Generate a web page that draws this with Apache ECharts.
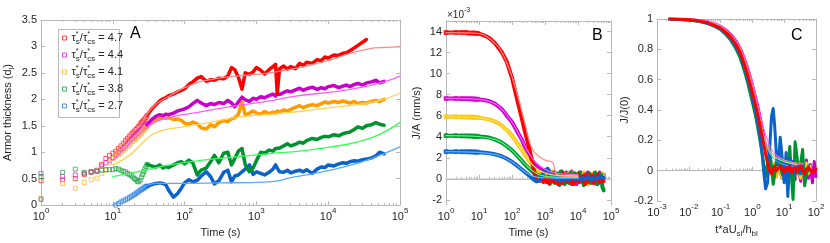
<!DOCTYPE html>
<html><head><meta charset="utf-8">
<script src="https://cdn.jsdelivr.net/npm/echarts@6/dist/echarts.min.js"></script>
<style>html,body{margin:0;padding:0;background:#fff}#c{width:830px;height:243px}</style>
</head><body><div id="c"></div>
<script>
// ---------- Panel A data ----------
const aMarkT = [1,2,3,4,5,6,7,8,9,10,11,12,13,14,15,16,17,18,19,20,21,22,23,24,25,26,27,28,29,30];
const aRedM = [0.46,0.48,0.50,0.58,0.62,0.66,0.77,0.88,0.94,0.98,1.02,1.07,1.12,1.17,1.22,1.26,1.30,1.34,1.37,1.40,1.43,1.46,1.49,1.53,1.56,1.58,1.61,1.63,1.66,1.69];
const aMagM = [0.60,0.54,0.57,0.60,0.63,0.64,0.74,0.80,0.84,0.90,0.94,0.99,1.04,1.08,1.12,1.16,1.20,1.24,1.27,1.30,1.33,1.36,1.38,1.41,1.43,1.46,1.48,1.50,1.52,1.54];
const aOrM = [0.13,0.41,0.32,0.43,0.48,0.51,0.60,0.66,0.80,0.88,0.92,0.96,1.00,1.04,1.07,1.10,1.13,1.17,1.20,1.23,1.26,1.29,1.31,1.34,1.37,1.40,1.42,1.45,1.47,1.49];
const aGrM = [0.54,0.62,0.68,0.62,0.63,0.64,0.66,0.67,0.67,0.67,0.69,0.68,0.66,0.64,0.63,0.60,0.58,0.56,0.53,0.50,0.48,0.45,0.44,0.47,0.53,0.58,0.63,0.68,0.73,0.77];
const aBlM = [0.11,null,null,null,null,null,null,null,null,null,0.0,0.03,0.06,0.08,0.10,0.12,0.14,0.16,0.18,0.20,0.22,0.24,0.26,0.28,0.29,0.31,0.32,0.34,0.35,0.36];

const tA = [30,35,40,45,50,55,60,70,80,90,100,115,130,150,170,200,230,260,300,350,400,450,500,560,630,700,800,900,1000,1150,1300,1500,1700,1850,1950,2100,2400,2700,3000,3500,4000,4500,5000,6000,7000,8000,9000,10000,12000,14000,16000,18000,20000,23000,26000,30000,34000,40000,46000,52000,60000];
const aRed = [1.70,1.82,1.90,1.97,2.01,2.03,2.07,2.10,2.14,2.17,2.20,2.28,2.33,2.40,2.43,2.34,2.37,2.36,2.40,2.39,2.44,2.60,2.56,2.42,2.19,2.50,2.47,2.52,2.60,2.55,2.48,2.56,2.62,2.66,2.10,2.58,2.63,2.57,2.62,2.58,2.68,2.64,2.70,2.68,2.75,2.73,2.80,2.78,2.84,2.83,2.87,2.88,2.92,2.97,3.02,3.08,3.13,null,null,null,null];
const aMag = [1.52,1.62,1.68,1.71,1.69,1.72,1.71,1.74,1.78,1.80,1.82,1.86,1.92,1.98,1.93,1.88,1.92,1.90,1.94,1.92,1.98,1.93,1.86,1.95,2.04,1.99,1.96,2.02,2.00,2.05,2.03,2.07,2.10,2.06,2.11,2.09,2.13,2.16,2.14,2.18,2.21,2.17,2.20,2.23,2.19,2.22,2.20,2.24,2.26,2.22,2.25,2.27,2.24,2.28,2.30,2.27,2.31,2.33,2.36,2.31,2.34];
const aOr = [1.48,1.56,1.62,1.64,1.66,1.64,1.65,1.62,1.63,1.60,1.55,1.53,1.57,1.54,1.46,1.44,1.52,1.48,1.56,1.60,1.58,1.63,1.65,1.72,1.95,1.70,1.74,1.78,1.74,1.72,1.77,1.73,1.76,1.74,1.78,1.76,1.80,1.78,1.81,1.85,1.88,1.84,1.87,1.90,1.88,1.92,1.95,1.93,1.96,1.94,1.97,1.95,1.93,1.96,1.92,1.94,1.93,1.96,1.98,1.96,2.00];
const aGr = [0.77,0.74,0.72,0.76,0.70,0.73,0.71,0.76,0.80,0.82,0.78,0.85,0.80,0.57,0.66,0.70,0.82,0.94,0.80,0.98,1.00,0.76,0.88,1.02,1.07,0.76,0.63,0.70,0.84,1.00,0.98,1.04,1.02,1.07,1.05,1.08,1.12,1.16,1.12,1.15,1.19,1.17,1.22,1.26,1.24,1.28,1.30,1.29,1.33,1.31,1.35,1.37,1.38,1.43,1.48,1.45,1.50,1.52,1.56,1.53,1.51];
const aBl = [0.36,0.39,0.41,0.42,0.41,0.38,0.28,0.15,0.22,0.32,0.42,0.48,0.44,0.47,0.55,0.63,0.54,0.40,0.46,0.62,0.66,0.44,0.55,0.57,0.63,0.68,0.76,0.58,0.63,0.60,0.57,0.62,0.68,0.76,0.70,0.63,0.62,0.66,0.61,0.64,0.66,0.63,0.67,0.60,0.68,0.72,0.71,0.76,0.74,0.78,0.80,0.79,0.82,0.84,0.83,0.86,0.87,0.89,0.93,1.00,0.97];

const aRedModT = [10,15,20,24,30,40,63,100,160,300,530,1000,1550,2500,4000,7000,10000,20000,38000,60000,100000];
const aRedModY = [0.94,1.22,1.42,1.50,1.72,1.91,2.07,2.22,2.33,2.40,2.44,2.47,2.50,2.55,2.60,2.68,2.73,2.87,2.96,2.98,2.99];
const aMagModT = [10,15,24,36,63,160,530,1550,3500,15000,38000,70000,100000];
const aMagModY = [0.85,1.08,1.35,1.55,1.66,1.76,1.88,1.97,2.06,2.16,2.26,2.36,2.44];
const aOrModT = [10,17,28,35,45,60,180,530,1550,4000,10000,20000,38000,60000,100000];
const aOrModY = [0.76,0.94,1.22,1.33,1.40,1.44,1.54,1.66,1.72,1.77,1.84,1.88,1.94,2.00,2.12];
const aGrModT = [10,20,30,63,180,530,1550,4000,7700,20000,38000,60000,100000];
const aGrModY = [0.54,0.62,0.67,0.76,0.85,0.91,0.975,1.02,1.07,1.16,1.26,1.38,1.56];
const aBlModT = [10,15,20,25,30,35,40,100,300,1000,2000,3000,5000,10000,20000,40000,100000];
const aBlModY = [0.0,0.13,0.24,0.32,0.37,0.40,0.41,0.41,0.42,0.43,0.46,0.52,0.57,0.65,0.75,0.88,1.10];

// ---------- Panel B data (units of 1e-3 mm/s) ----------
const bMarkT = [1,2,3,4,5,6,7,8,9];
const bRedM = [13.9,13.9,13.9,13.9,13.85,13.85,13.85,13.83,13.82];
const bMagM = [7.64,7.64,7.62,7.62,7.6,7.6,7.58,7.57,7.56];
const bYelM = [5.9,5.9,5.88,5.88,5.87,5.86,5.85,5.83,5.82];
const bGrM = [4.1,4.1,4.08,4.08,4.07,4.06,4.05,4.04,4.03];
const bBlM = [2.58,2.58,2.57,2.57,2.56,2.56,2.55,2.54,2.53];

const tB = [1,2,3,4,5,7,10,15,20,30,40,50,70,100,130,170,200,250,300,350,400,450,500,550,600,700,800,900,1000,1100,1200,1300,1400,1550,1700,1850,2000,2250,2500,2750,3000,3250,3500,3750,4000,4500,5000,5500,6000,6500,7000,7500,8000,9000,10000,11000,12000,13500,15000,16500,18000,20000,22000,24500,27000,30000,33000,36500,40000,45000,50000,55000,60000];
const bRed = [13.9,13.9,13.9,13.9,13.85,13.85,13.8,13.6,13.4,12.9,12.4,12.0,11.1,9.6,8.1,6.6,5.7,4.4,3.5,2.6,1.7,1.0,0.3,-0.1,-0.25,-0.2,0.1,-0.3,0.2,
 -0.3,0.2,-0.4,0.1,0.3,-0.2,0.4,-0.3,0.1,-0.5,0.3,0.0,-0.4,0.5,-0.1,0.2,-0.3,0.4,-0.2,0.1,-0.5,0.3,0.2,-0.4,0.0,0.4,-0.3,0.2,-0.1,0.3,-0.5,0.1,0.4,-0.2,0.0,0.3,-0.4,0.2,-0.1,0.4,-0.3,0.1,0.2,-0.2];
const bMag = [7.64,7.64,7.62,7.62,7.6,7.58,7.55,7.47,7.4,7.15,6.85,6.6,6.0,5.4,4.75,4.1,3.7,3.0,2.6,2.2,1.8,1.5,1.35,1.2,1.1,0.95,0.85,0.75,0.7,
 0.5,0.6,0.3,0.7,0.2,0.5,-0.3,0.6,0.1,0.4,-0.2,0.7,0.3,-0.4,0.5,0.2,0.6,-0.3,0.4,0.1,0.7,-0.2,0.3,0.5,-0.5,0.4,0.2,0.6,-0.3,0.5,0.1,-0.4,0.6,0.2,0.4,-0.3,0.5,0.0,0.3,-0.5,0.6,0.2,-0.2,0.4];
const bYel = [5.9,5.9,5.88,5.88,5.87,5.85,5.8,5.72,5.65,5.45,5.25,5.05,4.65,4.1,3.6,3.05,2.75,2.25,1.9,1.6,1.3,1.1,0.9,0.75,0.65,0.5,0.4,0.3,0.25,
 0.3,0.1,0.6,-0.2,0.4,0.7,0.0,0.3,-0.4,0.5,0.2,-0.1,0.6,0.1,-0.3,0.4,0.0,0.5,-0.2,0.3,0.6,-0.4,0.2,0.0,0.5,-0.3,0.4,0.1,-0.2,0.6,0.0,0.3,-0.5,0.4,0.2,-0.1,0.5,-0.3,0.2,0.4,-0.2,0.1,0.5,0.0];
const bGr = [4.1,4.1,4.08,4.08,4.07,4.05,4.02,3.97,3.92,3.75,3.58,3.42,3.1,2.7,2.35,1.95,1.7,1.35,1.1,0.9,0.72,0.6,0.5,0.42,0.38,0.3,0.2,0.15,0.1,
 0.0,-0.3,0.4,-0.5,0.2,-0.2,0.6,-0.4,0.1,0.5,-0.6,0.3,0.7,-0.2,0.0,-0.5,0.4,0.2,-0.4,0.6,-0.1,0.3,-0.5,0.5,0.0,-0.3,0.6,-0.2,0.2,-0.6,0.4,0.0,-0.3,0.5,-0.4,0.3,-0.1,0.6,-0.5,0.2,-0.3,0.4,-0.8,-1.1];
const bBl = [2.58,2.58,2.57,2.57,2.56,2.55,2.52,2.48,2.44,2.33,2.22,2.12,1.9,1.62,1.35,1.05,0.88,0.62,0.42,0.25,0.1,-0.05,-0.18,-0.25,-0.28,-0.15,0.2,0.55,0.8,
 0.9,0.95,0.85,0.6,0.3,0.1,0.0,0.1,-0.1,0.15,0.0,-0.15,0.1,0.2,-0.1,0.05,0.15,-0.05,0.1,0.0,-0.1,0.2,0.05,-0.05,0.1,0.15,0.0,-0.1,0.1,0.2,0.0,-0.05,0.15,0.05,-0.1,0.1,0.2,0.0,-0.15,0.1,0.05,0.15,0.0,0.1];

const bRedModT = [1,10,30,50,100,170,250,400,700,1100,1700,1950,2500,4000,10000];
const bRedModY = [13.9,13.8,12.9,12.0,9.7,7.2,5.2,2.9,2.05,1.73,1.57,0.94,0.3,0.25,0.2];
const bModT = [1,10,30,50,100,170,250,400,600,1000,1500,2000,2500,4000,10000];
const bMagModY = [7.64,7.55,7.15,6.6,5.4,4.1,3.1,2.0,1.4,0.9,0.65,0.55,0.5,0.45,0.4];
const bYelModY = [5.9,5.8,5.45,5.05,4.1,3.05,2.3,1.4,0.9,0.55,0.4,0.35,0.32,0.3,0.28];
const bGrModY = [4.1,4.02,3.75,3.42,2.7,1.95,1.4,0.8,0.45,0.25,0.18,0.15,0.14,0.13,0.12];
const bBlModY = [2.58,2.52,2.33,2.12,1.62,1.05,0.65,0.3,0.15,0.1,0.08,0.07,0.06,0.05,0.05];

// ---------- Panel C data ----------
const tC = [0.0025,0.005,0.01,0.02,0.04,0.07,0.1,0.15,0.2,0.3,0.4,0.5,0.6,0.7,0.8,0.9,1.0,1.2,1.4,1.6,1.8,2.0,2.3,2.6,3.0,3.5,4.0,4.5,5.0,5.7,6.5,7.5,8.5,10,11.5,13,15,17,19,22,25,29,33,38,44,50,58,67,77,88,100];
const cRed = [1.0,0.998,0.995,0.988,0.975,0.955,0.94,0.91,0.885,0.835,0.785,0.73,0.68,0.635,0.59,0.55,0.515,0.45,0.39,0.335,0.28,0.23,0.17,0.11,0.05,0.0,-0.02,0.01,0.03,0.0,-0.01,0.03,0.01,-0.01,0.02,0.0,0.03,-0.01,0.01,0.02,-0.01,0.01,0.03,0.0,-0.02,0.01,0.02,0.0,0.01,-0.01,0.01];
const cGr = [1.0,0.997,0.993,0.985,0.97,0.948,0.93,0.895,0.865,0.805,0.75,0.69,0.635,0.585,0.535,0.49,0.45,0.38,0.31,0.24,0.18,0.12,0.04,-0.04,0.04,0.14,0.03,-0.09,-0.03,0.06,0.12,0.04,-0.02,-0.05,0.08,0.02,0.16,-0.05,-0.19,0.19,0.1,-0.02,0.05,0.14,-0.1,-0.03,0.03,null,null,null,null];
const cBl = [1.0,0.997,0.994,0.986,0.972,0.951,0.935,0.902,0.875,0.82,0.768,0.71,0.66,0.61,0.565,0.52,0.48,0.41,0.34,0.27,0.2,0.12,-0.02,-0.12,-0.08,0.15,0.36,0.41,0.3,0.1,0.04,0.22,0.1,-0.08,0.12,-0.17,0.08,0.0,0.06,-0.03,0.04,0.02,-0.02,0.03,null,null,null,null,null,null,null];
const cMag = [1.0,0.999,0.997,0.99,0.98,0.962,0.948,0.922,0.9,0.855,0.81,0.765,0.72,0.68,0.64,0.6,0.565,0.5,0.445,0.39,0.34,0.29,0.22,0.16,0.1,0.04,0.0,-0.03,0.02,-0.04,0.05,0.0,-0.05,0.06,0.01,-0.04,0.07,-0.02,0.04,-0.06,0.06,0.0,-0.07,0.05,-0.03,0.07,-0.05,0.04,-0.08,0.06,-0.04];
const cYel = [1.0,0.998,0.996,0.989,0.977,0.958,0.943,0.915,0.89,0.843,0.795,0.745,0.695,0.652,0.61,0.57,0.535,0.47,0.41,0.355,0.3,0.25,0.19,0.13,0.07,0.02,-0.03,0.02,0.05,-0.04,0.03,0.0,-0.05,0.04,0.06,-0.02,0.05,-0.04,0.03,0.06,-0.03,0.02,-0.05,0.04,0.0,0.05,-0.02,0.03,null,null,null];
const tCm = [0.0025,0.01,0.05,0.1,0.2,0.4,0.7,1.0,1.5,2.0,3.0,4.0,6.0,10,15,25,40];
const cRedMod = [1,0.996,0.98,0.95,0.9,0.81,0.67,0.55,0.39,0.27,0.17,0.12,0.09,0.07,0.06,0.05,0.05];
const cMagMod = [1,0.998,0.985,0.96,0.915,0.83,0.7,0.59,0.43,0.32,0.2,0.14,0.1,0.07,0.05,0.04,0.04];
const cYelMod = [1,0.996,0.978,0.948,0.895,0.8,0.66,0.54,0.38,0.27,0.16,0.11,0.08,0.06,0.05,0.04,null];
const cGrMod = [1,0.995,0.975,0.94,0.885,0.785,0.64,0.52,0.36,0.25,0.15,0.1,0.08,0.06,0.05,0.05,null];
const cBlMod = [1,0.996,0.977,0.945,0.89,0.79,0.65,0.53,0.37,0.26,0.15,0.1,0.06,0.04,0.03,0.03,null];

// ---------- labels ----------
const legendValues = ['4.7','4.4','4.1','3.8','2.7'];
const majorA = [1,10,100,1000,10000,100000];
const minorA = [2,3,4,5,6,7,8,9,20,30,40,50,60,70,80,90,200,300,400,500,600,700,800,900,2000,3000,4000,5000,6000,7000,8000,9000,20000,30000,40000,50000,60000,70000,80000,90000];
const majorC = [0.001,0.01,0.1,1,10,100];
const minorC = [0.002,0.003,0.004,0.005,0.006,0.007,0.008,0.009,0.02,0.03,0.04,0.05,0.06,0.07,0.08,0.09,0.2,0.3,0.4,0.5,0.6,0.7,0.8,0.9,2,3,4,5,6,7,8,9,20,30,40,50,60,70,80,90];
const yTicksB = [-2,0,2,4,6,8,10,12,14];

// ---------- styling ----------
const FONT = '"Liberation Sans", Arial, Helvetica, sans-serif';
const AX = '#b8b8b8';
const TXT = '#262626';
const C = {
  red:'#ff0000', mag:'#c800c8', or:'#ff9a00', yel:'#ffc800', gr:'#00922e', bl:'#0b62c8',
  redL:'#ff8a8a', magL:'#ff5cff', orL:'#ffd24d', grL:'#33ff55', blL:'#5aaaff',
  redMk:'#ff2020', magMk:'#d820d8', orMk:'#ffb020', grMk:'#17a040', blMk:'#2a78d8'
};
const supRich = {
  b:{fontSize:11, fontFamily:FONT, color:TXT, lineHeight:15, verticalAlign:'bottom'},
  e:{fontSize:8, fontFamily:FONT, color:TXT, lineHeight:9, verticalAlign:'top'}
};
const subRich = {
  n:{fontFamily:FONT, fontSize:11, color:TXT, lineHeight:14, verticalAlign:'top'},
  s:{fontFamily:FONT, fontSize:8, color:TXT, lineHeight:8, verticalAlign:'bottom'}
};
function supLabel(v){ const e = Math.round(Math.log10(v)); return '{b|10}{e|' + (e < 0 ? '-' + (-e) : e) + '}'; }

function logAxes(g, min, max, majors, minors, name, nameGap){
  const base = {type:'log', logBase:10, gridIndex:g, min:min, max:max, splitLine:{show:false}, axisPointer:{show:false}};
  return [
    Object.assign({}, base, {position:'bottom',
      axisLine:{show:true, lineStyle:{color:AX, width:1}},
      axisTick:{show:true, inside:true, length:4, customValues:majors, lineStyle:{color:AX}},
      axisLabel:{show:true, customValues:majors, formatter:supLabel, rich:supRich, margin:2},
      name:name, nameLocation:'middle', nameGap:nameGap,
      nameTextStyle:{fontFamily:FONT, fontSize:11, color:TXT, rich:subRich}}),
    Object.assign({}, base, {position:'bottom', axisLine:{show:false},
      axisTick:{show:true, inside:true, length:2, customValues:minors, lineStyle:{color:AX}},
      axisLabel:{show:false}}),
    Object.assign({}, base, {position:'top', axisLine:{show:true, lineStyle:{color:AX}},
      axisTick:{show:true, inside:true, length:4, customValues:majors, lineStyle:{color:AX}},
      axisLabel:{show:false}}),
    Object.assign({}, base, {position:'top', axisLine:{show:false},
      axisTick:{show:true, inside:true, length:2, customValues:minors, lineStyle:{color:AX}},
      axisLabel:{show:false}})
  ];
}
function valAxes(g, min, max, interval, ticks, name, nameGap){
  const base = {type:'value', gridIndex:g, min:min, max:max, splitLine:{show:false}, axisPointer:{show:false}};
  if (interval) base.interval = interval;
  const tick = {show:true, inside:true, length:4, lineStyle:{color:AX}};
  const lab = {show:true, fontFamily:FONT, fontSize:11, color:TXT, margin:4};
  if (ticks){ tick.customValues = ticks; lab.customValues = ticks; }
  return [
    Object.assign({}, base, {position:'left', axisLine:{show:true, lineStyle:{color:AX}}, axisTick:tick, axisLabel:lab,
      name:name, nameLocation:'middle', nameGap:nameGap,
      nameTextStyle:{fontFamily:FONT, fontSize:11, color:TXT, rich:subRich}}),
    Object.assign({}, base, {position:'right', axisLine:{show:true, lineStyle:{color:AX}}, axisTick:tick, axisLabel:{show:false}})
  ];
}

function zip(ts, ys){ const out = []; for (let i = 0; i < ts.length; i++){ if (ys[i] != null) out.push([ts[i], ys[i]]); } return out; }
function line(g, ts, ys, color, width, z, smooth){
  return {type:'line', xAxisIndex:g*4, yAxisIndex:g*2, data:zip(ts, ys), symbol:'none', showSymbol:false,
    lineStyle:{color:color, width:width, join:'round', cap:'round'}, itemStyle:{color:color}, smooth:smooth || false, z:z, silent:true, animation:false};
}
function marks(g, ts, ys, color, name, size){
  return {type:'scatter', name:name || undefined, xAxisIndex:g*4, yAxisIndex:g*2, data:zip(ts, ys), symbol:'rect', symbolSize:size || 4,
    itemStyle:{color:'rgba(0,0,0,0)', borderColor:color, borderWidth:0.9}, z:3, silent:true, animation:false};
}

const series = [
  // Panel A
  marks(0, aMarkT, aRedM, C.redMk, legendValues[0]),
  marks(0, aMarkT, aMagM, C.magMk, legendValues[1]),
  marks(0, aMarkT, aOrM, C.orMk, legendValues[2]),
  marks(0, aMarkT, aGrM, C.grMk, legendValues[3]),
  marks(0, aMarkT, aBlM, C.blMk, legendValues[4]),
  line(0, tA, aBl, C.bl, 3.5, 4),
  line(0, tA, aGr, C.gr, 3.5, 4),
  line(0, tA, aOr, C.or, 3.5, 4),
  line(0, tA, aMag, C.mag, 3.5, 4),
  line(0, tA, aRed, C.red, 3.5, 4),
  line(0, aRedModT, aRedModY, C.redL, 1.3, 6, 0.4),
  line(0, aMagModT, aMagModY, C.magL, 1.3, 6, 0.4),
  line(0, aOrModT, aOrModY, C.orL, 1.3, 6, 0.4),
  line(0, aGrModT, aGrModY, C.grL, 1.3, 6, 0.4),
  line(0, aBlModT, aBlModY, C.blL, 1.3, 6, 0.4),
  // Panel B
  line(1, [1, 100000], [0, 0], '#d0d0d0', 1, 1),
  marks(1, bMarkT, bRedM, C.red), marks(1, bMarkT, bMagM, C.mag), marks(1, bMarkT, bYelM, C.yel),
  marks(1, bMarkT, bGrM, C.gr), marks(1, bMarkT, bBlM, C.bl),
  line(1, tB, bMag, C.mag, 4, 4),
  line(1, tB, bYel, C.yel, 4, 4),
  line(1, tB, bGr, C.gr, 4, 4),
  line(1, tB, bRed, C.red, 4, 4),
  line(1, tB, bBl, C.bl, 4, 4),
  line(1, bRedModT, bRedModY, C.redL, 1.2, 6, 0.4),
  line(1, bModT, bMagModY, C.magL, 1.2, 6, 0.4),
  line(1, bModT, bYelModY, '#ffe066', 1.2, 6, 0.4),
  line(1, bModT, bGrModY, '#50ff80', 1.2, 6, 0.4),
  line(1, bModT, bBlModY, '#60b0ff', 1.2, 6, 0.4),
  // Panel C
  line(2, tC, cMag, C.mag, 3, 4),
  line(2, tC, cYel, C.yel, 3, 4),
  line(2, tC, cGr, C.gr, 3, 4),
  line(2, tC, cBl, C.bl, 3, 4),
  line(2, tCm, cMagMod, C.magL, 1, 5, 0.4),
  line(2, tCm, cYelMod, '#ffe066', 1, 5, 0.4),
  line(2, tCm, cGrMod, '#50ff80', 1, 5, 0.4),
  line(2, tCm, cBlMod, '#60b0ff', 1, 5, 0.4),
  line(2, tCm, cRedMod, C.redL, 1, 5, 0.4),
  line(2, tC, cRed, C.red, 3, 7)
];

const legendColors = [C.redMk, C.magMk, C.orMk, C.grMk, C.blMk];
const option = {
  backgroundColor:'#fff',
  animation:false,
  grid:[
    {left:41, top:20, width:359, height:187},
    {left:446, top:21, width:165, height:185.5},
    {left:657, top:19, width:159, height:188}
  ],
  xAxis: [].concat(
    logAxes(0, 1, 100000, majorA, minorA, 'Time (s)', 20),
    logAxes(1, 1, 100000, majorA, minorA, 'Time (s)', 20),
    logAxes(2, 0.001, 100, majorC, minorC, '{n|t*aU}{s|sl}{n|/h}{s|bl}', 23)
  ),
  yAxis: [].concat(
    valAxes(0, 0, 3.5, 0.5, null, '{n|Armor thickness (d}{s|l}{n|)}', 25),
    valAxes(1, -2.5, 15, null, yTicksB, 'J/A (mm/s)', 24),
    valAxes(2, -0.2, 1, 0.2, null, 'J/J(0)', 19)
  ),
  legend:{
    data: legendValues.map((n, i) => ({name:n, icon:'rect', itemStyle:{color:'rgba(0,0,0,0)', borderColor:legendColors[i], borderWidth:1}})),
    orient:'vertical', left:59, top:30.5, itemWidth:4, itemHeight:4, itemGap:2,
    padding:[0, 2, 0, 3], borderWidth:0, backgroundColor:'rgba(0,0,0,0)',
    selectedMode:false, z:10,
    formatter: n => '{t|τ}{p|*}{b|s}{t|/τ}{p|*}{b|cs}{t| = ' + n + '}',
    textStyle:{fontFamily:FONT, fontSize:11, color:TXT,
      rich:{
        t:{fontFamily:FONT, fontSize:11, color:TXT, lineHeight:15, verticalAlign:'middle'},
        p:{fontFamily:FONT, fontSize:7, color:TXT, lineHeight:8, verticalAlign:'top', width:0},
        b:{fontFamily:FONT, fontSize:8, color:TXT, lineHeight:8, verticalAlign:'bottom'}
      }}
  },
  graphic:[
    {type:'rect', z:5, shape:{x:58.5, y:29.5, width:61, height:88}, style:{fill:'#ffffff', stroke:'#b8b8b8', lineWidth:1}},
    {type:'text', left:130, top:26, style:{text:'A', fontFamily:FONT, fontSize:16, fill:'#000'}},
    {type:'text', left:592, top:28, style:{text:'B', fontFamily:FONT, fontSize:16, fill:'#000'}},
    {type:'text', left:791, top:28, style:{text:'C', fontFamily:FONT, fontSize:16, fill:'#000'}},
    {type:'text', left:447, top:7, style:{text:'{a|×10}{e|-3}', rich:{a:{fontFamily:FONT, fontSize:10, fill:TXT, lineHeight:13, verticalAlign:'bottom'}, e:{fontFamily:FONT, fontSize:7, fill:TXT, lineHeight:8, verticalAlign:'top'}}}}
  ],
  series: series
};
const chart = echarts.init(document.getElementById('c'));
chart.setOption(option);
</script></body></html>
